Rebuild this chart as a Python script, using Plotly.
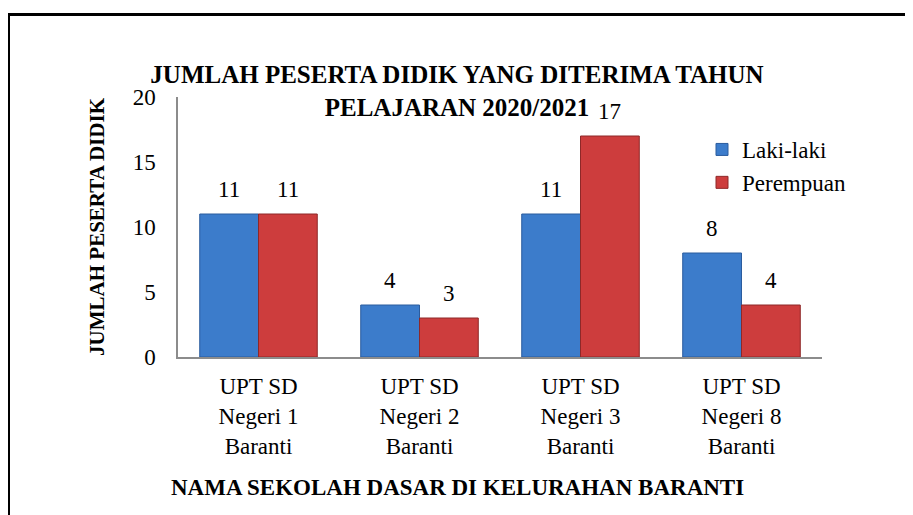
import plotly.graph_objects as go

categories = ["UPT SD<br>Negeri 1<br>Baranti", "UPT SD<br>Negeri 2<br>Baranti",
              "UPT SD<br>Negeri 3<br>Baranti", "UPT SD<br>Negeri 8<br>Baranti"]
laki = [11, 4, 11, 8]
perempuan = [11, 3, 17, 4]
series_names = ["Laki-laki", "Perempuan"]
y_ticks = [0, 5, 10, 15, 20]

FONT = "Liberation Serif"
W, H = 913, 515
L, R, T, B = 170, 99, 89, 166
pw, ph = W - L - R, H - T - B
BARGAP = 0.27

fig = go.Figure()
series = [(series_names[0], laki, "#3C7CCB", "#2B5C9E"),
          (series_names[1], perempuan, "#CD3D3D", "#8E2828")]
for name, vals, col, edge in series:
    fig.add_trace(go.Bar(
        x=list(range(len(categories))), y=vals, name=name,
        marker=dict(color=col, line=dict(color=edge, width=1)),
    ))

# value labels above the bars
bw = (1 - BARGAP) / 2
for k, (name, vals, col, edge) in enumerate(series):
    off = -bw / 2 if k == 0 else bw / 2
    for i, v in enumerate(vals):
        fig.add_annotation(x=i + off, y=v, xref="x", yref="y", text=str(v),
                           showarrow=False, yanchor="bottom", yshift=10,
                           font=dict(family=FONT, size=23, color="black"))

# x-axis title (centred a bit left of the plot centre, as in the original)
fig.add_annotation(x=(457 - 8 - L) / pw, y=(349 - 479) / ph, xref="paper", yref="paper",
                   text="<b>NAMA SEKOLAH DASAR DI KELURAHAN BARANTI</b>", showarrow=False,
                   xanchor="center", yanchor="middle",
                   font=dict(family=FONT, size=23, color="black"))

fig.update_layout(
    width=W, height=H,
    margin=dict(l=L, r=R, t=T, b=B),
    paper_bgcolor="white", plot_bgcolor="white",
    barmode="group", bargap=BARGAP, bargroupgap=0,
    font=dict(family=FONT, size=23, color="black"),
    title=dict(text="<b>JUMLAH PESERTA DIDIK YANG DITERIMA TAHUN<br>PELAJARAN 2020/2021</b>",
               x=(457 - 8) / W, xanchor="center", y=1 - 75 / H, yanchor="top",
               font=dict(family=FONT, size=25, color="black")),
    legend=dict(x=(702 - 8 - L) / pw, y=(349 - (128 - 8)) / ph, xanchor="left", yanchor="top",
                font=dict(family=FONT, size=23), bgcolor="rgba(0,0,0,0)",
                itemwidth=30, tracegroupgap=4),
    showlegend=True,
)
fig.update_xaxes(showline=True, linecolor="#8C8C8C", linewidth=1.5, ticks="",
                 tickvals=list(range(len(categories))), ticktext=categories,
                 range=[-0.5, len(categories) - 0.5],
                 tickfont=dict(family=FONT, size=23), showgrid=False, ticklabelstandoff=8)
fig.update_yaxes(range=[0, 20], tickvals=y_ticks, showline=True, linecolor="#8C8C8C",
                 linewidth=1.5, ticks="", showgrid=False, zeroline=False,
                 tickfont=dict(family=FONT, size=23), ticklabelstandoff=16,
                 title=dict(text="<b>JUMLAH PESERTA DIDIK</b>",
                            font=dict(family=FONT, size=21), standoff=22))

# outer black border of the chart frame
fig.add_shape(type="rect", xref="paper", yref="paper",
              x0=(0.5 - L) / pw, x1=(W + 20 - L) / pw,
              y0=(H - B - (H + 20)) / ph, y1=(H - B - 6.5) / ph,
              line=dict(color="black", width=3), fillcolor="rgba(0,0,0,0)", layer="below")

fig.write_html("out.html")
